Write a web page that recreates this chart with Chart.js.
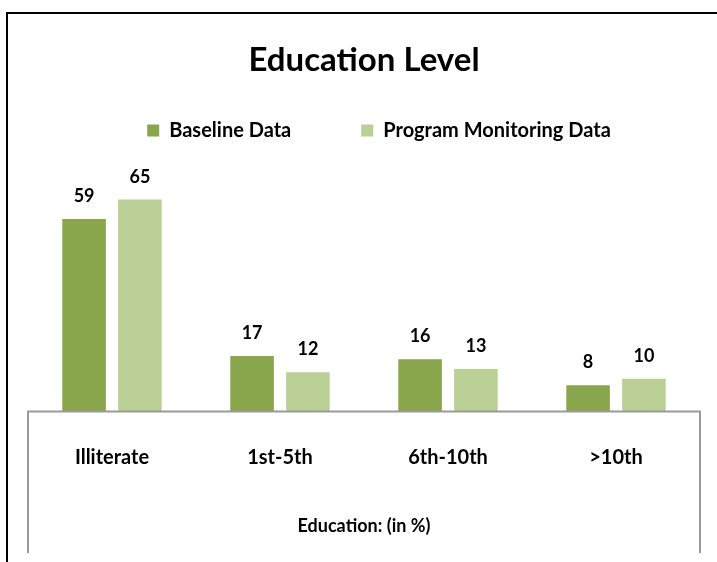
<!DOCTYPE html>
<html>
<head>
<meta charset="utf-8">
<script src="https://cdn.jsdelivr.net/npm/chart.js@4/dist/chart.umd.min.js"></script>
<style>
  html, body { margin: 0; padding: 0; background: #fff; overflow: hidden; }
  #wrap { position: relative; width: 717px; height: 562px; }
  #frame { position: absolute; left: 6px; top: 12px; width: 800px; height: 800px;
           border-top: 2px solid #000; border-left: 2px solid #000; box-sizing: border-box; }
  canvas { position: absolute; left: 0; top: 0; }
</style>
</head>
<body>
<div id="wrap">
  <div id="frame"></div>
  <canvas id="c" width="717" height="562"></canvas>
</div>
<script>
const categories = ['Illiterate', '1st-5th', '6th-10th', '>10th'];
const seriesNames = ['Baseline Data', 'Program Monitoring Data'];
const baselineData = [59, 17, 16, 8];
const monitoringData = [65, 12, 13, 10];
const chartTitle = 'Education Level';
const xAxisTitle = 'Education: (in %)';

const FONT = "Lato, 'Liberation Sans', sans-serif";
Chart.defaults.color = '#000';
Chart.defaults.font.family = FONT;

const valueLabels = {
  id: 'valueLabels',
  afterDatasetsDraw(chart) {
    const ctx = chart.ctx;
    ctx.save();
    ctx.font = 'bold 18px ' + FONT;
    ctx.fillStyle = '#000';
    ctx.textAlign = 'center';
    ctx.textBaseline = 'alphabetic';
    chart.data.datasets.forEach((ds, di) => {
      chart.getDatasetMeta(di).data.forEach((bar, i) => {
        ctx.fillText(String(ds.data[i]), bar.x, bar.y - 17);
      });
    });
    ctx.restore();
  }
};

const axisBox = {
  id: 'axisBox',
  afterDraw(chart) {
    const xs = chart.scales.x;
    const ctx = chart.ctx;
    ctx.save();
    ctx.strokeStyle = '#9a9a9a';
    ctx.lineWidth = 2;
    ctx.beginPath();
    ctx.moveTo(xs.left, xs.bottom);
    ctx.lineTo(xs.left, xs.top);
    ctx.lineTo(xs.right, xs.top);
    ctx.lineTo(xs.right, xs.bottom);
    ctx.stroke();
    ctx.restore();
  }
};

// nudge the legend row slightly right, as in the reference
const legendShift = {
  id: 'legendShift',
  afterLayout(chart) {
    if (chart.legend) {
      chart.legend.left += 15;
      chart.legend.right += 15;
    }
  }
};

new Chart(document.getElementById('c'), {
  type: 'bar',
  data: {
    labels: categories,
    datasets: [
      { label: seriesNames[0], data: baselineData, backgroundColor: '#8AA64D', borderWidth: 0,
        categoryPercentage: 0.665, barPercentage: 0.78 },
      { label: seriesNames[1], data: monitoringData, backgroundColor: '#BBD096', borderWidth: 0,
        categoryPercentage: 0.665, barPercentage: 0.78 }
    ]
  },
  options: {
    responsive: false,
    animation: false,
    layout: { padding: { left: 28, right: 17, top: 0, bottom: 9 } },
    plugins: {
      title: {
        display: true,
        text: chartTitle,
        font: { size: 33, weight: 'bold', family: FONT },
        color: '#000',
        padding: { top: 41, bottom: -30 }
      },
      legend: {
        display: true,
        position: 'top',
        labels: {
          font: { size: 20, weight: 'bold', family: FONT },
          color: '#000',
          boxWidth: 12,
          boxHeight: 12,
          padding: 70
        }
      },
      tooltip: { enabled: false }
    },
    scales: {
      y: { display: false, min: 0, max: 80 },
      x: {
        grid: { display: false, drawTicks: false, tickLength: 0 },
        border: { display: false },
        ticks: { font: { size: 20, weight: 'bold', family: FONT }, color: '#000', padding: 34 },
        title: {
          display: true,
          text: xAxisTitle,
          font: { size: 18, weight: 'bold', family: FONT },
          color: '#000',
          padding: { top: 12, bottom: 16 }
        }
      }
    }
  },
  plugins: [valueLabels, axisBox, legendShift]
});
</script>
</body>
</html>
